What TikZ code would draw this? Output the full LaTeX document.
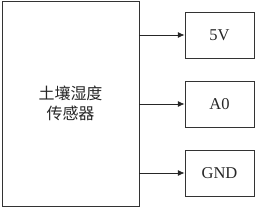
\documentclass[tikz,border=0pt]{standalone}
\usepackage{fontspec}
\setmainfont{Liberation Serif}
\newfontfamily\cjk{Noto Sans CJK SC}
\usetikzlibrary{arrows.meta,positioning}

\begin{document}
\begin{tikzpicture}[x=1pt, y=1pt,
  box/.style={draw=black!80, line width=0.8pt, minimum width=69pt, minimum height=46pt, align=center, text=black!85, font=\fontsize{16.5}{18}\selectfont, inner sep=0pt},
  arrow/.style={-{Latex[length=2.4mm, width=2.1mm]}, line width=0.8pt, draw=black!85}
]
  \useasboundingbox (0,0) rectangle (255,208);
  \node[box, minimum width=137pt, minimum height=205pt, font=\cjk\fontsize{16}{20}\selectfont] (sensor) at (70.5,104.5) {土壤湿度\\传感器};
  \node[box] (v5) at (219.5,173) {5V};
  \node[box] (a0) at (219.5,104) {A0};
  \node[box] (gnd) at (219.5,35) {GND};

  \draw[arrow] (sensor.east |- v5.west) -- (v5.west);
  \draw[arrow] (sensor.east |- a0.west) -- (a0.west);
  \draw[arrow] (sensor.east |- gnd.west) -- (gnd.west);
\end{tikzpicture}
\end{document}
